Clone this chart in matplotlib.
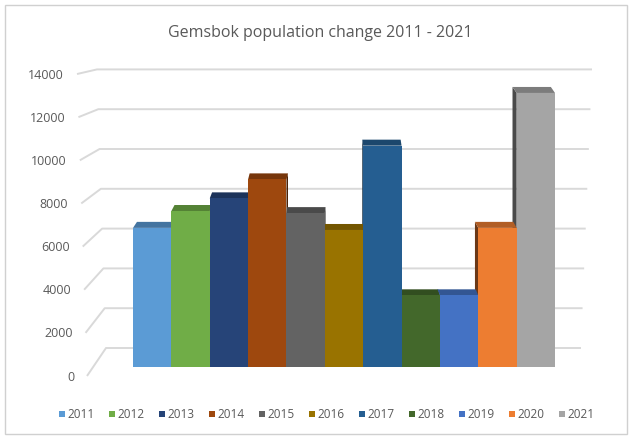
import matplotlib
matplotlib.use("Agg")
import matplotlib.pyplot as plt
from matplotlib.patches import Polygon, Rectangle
import matplotlib.colors as mcolors

# ---- data ----
years = ["2011", "2012", "2013", "2014", "2015", "2016",
         "2017", "2018", "2019", "2020", "2021"]
population = [6600, 7400, 8000, 8900, 7300, 6500,
              10500, 3400, 3400, 6600, 13000]
colors = ["#5B9BD5", "#70AD47", "#264478", "#9E480E", "#636363", "#997300",
          "#255E91", "#43682B", "#4472C4", "#ED7D31", "#A5A5A5"]
ticks = [0, 2000, 4000, 6000, 8000, 10000, 12000, 14000]
title = "Gemsbok population change 2011 - 2021"

FONT = ["Open Sans", "DejaVu Sans"]
TXT = "#595959"
GRID = "#D9D9D9"

W, H = 630, 436
fig = plt.figure(figsize=(W / 100, H / 100), dpi=100)
ax = fig.add_axes([0, 0, 1, 1])
ax.set_axis_off()

# pixel layout of the plot (front plane)
bar_px = 38.36          # px per category
x_first = 152.2         # px of first bar centre
base_px = 367.0         # px (from top) of the front floor
v_px = 0.02108          # px per unit value on the front plane

ax.set_xlim(-x_first / bar_px, (W - x_first) / bar_px)
ax.set_ylim(-(H - base_px) / v_px, base_px / v_px)


def px2data(px, py):
    """pixel (from top-left) -> data"""
    return (px - x_first) / bar_px, (base_px - py) / v_px


def dpx_x(d):
    return d / bar_px


def dpx_y(d):
    return d / v_px


# ---- figure frame ----
fig.patches.append(Rectangle((5 / W, 2 / H), 622 / W, (H - 7) / H,
                             transform=fig.transFigure, fill=False,
                             edgecolor="#D0D0D0", lw=1.0))

# ---- gridlines (back wall, with perspective floor segment) ----
for t in ticks:
    f = t / 14000.0
    fy = 376 - t * 0.02157
    fx = 87 - 10 * f
    by = 348 - t * 0.0199
    bx = 106 - 9 * f
    rx = 581 + 11 * f
    xs, ys = zip(px2data(fx, fy), px2data(bx, by), px2data(rx, by))
    ax.plot(xs, ys, color=GRID, lw=1.4, zorder=0.5, solid_capstyle="butt")
    lx, ly = px2data(fx - 13, fy + 1)
    ax.text(lx, ly, str(t), ha="right", va="center", fontsize=9,
            color=TXT, family=FONT)

# ---- 3D-like columns ----
xs = list(range(len(years)))
vanish_px = 340.0
depth_px = 6.0
k = 0.021
width = 1.0


def shade(c, f):
    r, g, b = mcolors.to_rgb(c)
    return (r * f, g * f, b * f)


for i, (v, c) in enumerate(zip(population, colors)):
    cx_px = x_first + i * bar_px
    s = dpx_x((vanish_px - cx_px) * k)
    d = dpx_y(depth_px)
    xl, xr = i - width / 2, i + width / 2
    if s < 0:
        side = [(xl, 0), (xl + s, d), (xl + s, v + d), (xl, v)]
    else:
        side = [(xr, 0), (xr + s, d), (xr + s, v + d), (xr, v)]
    ax.add_patch(Polygon(side, closed=True, facecolor=shade(c, 0.45),
                         edgecolor="none", zorder=1))
    top = [(xl, v), (xr, v), (xr + s, v + d), (xl + s, v + d)]
    ax.add_patch(Polygon(top, closed=True, facecolor=shade(c, 0.75),
                         edgecolor="none", zorder=2))

ax.bar(xs, population, width=width, color=colors, edgecolor="none",
       zorder=3)

# ---- title ----
tx, ty = px2data(320, 33)
ax.text(tx, ty, title, ha="center", va="center", fontsize=11.5,
        color=TXT, family=FONT)

# ---- legend ----
leg_x0 = 62
leg_step = 50
leg_y = 414
for i, (yr, c) in enumerate(zip(years, colors)):
    px = leg_x0 + i * leg_step
    qx, qy = px2data(px - 3, leg_y + 3)
    ax.add_patch(Rectangle((qx, qy), dpx_x(6), dpx_y(6), facecolor=c,
                           edgecolor="none", clip_on=False))
    lx, ly = px2data(px + 5, leg_y)
    ax.text(lx, ly, yr, ha="left", va="center", fontsize=8.5,
            color=TXT, family=FONT)

fig.savefig("out.png", dpi=100)
